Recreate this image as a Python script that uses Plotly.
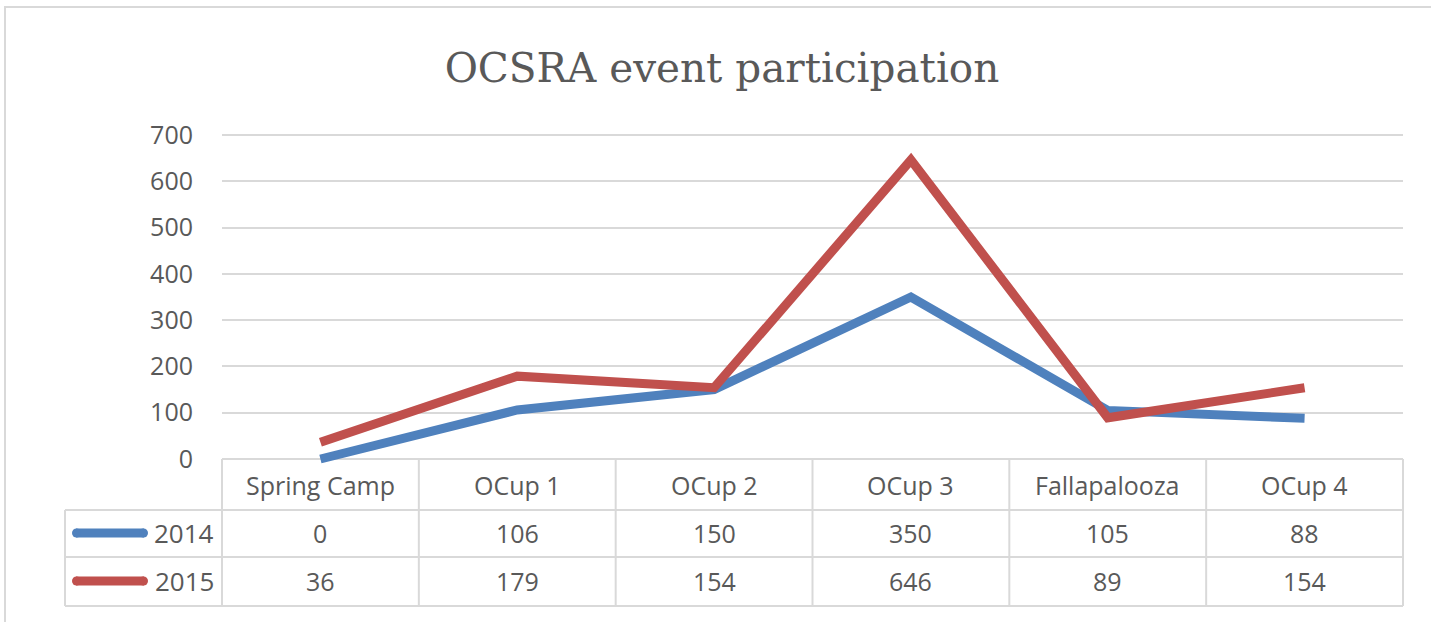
import plotly.graph_objects as go

categories = ["Spring Camp", "OCup 1", "OCup 2", "OCup 3", "Fallapalooza", "OCup 4"]
series_names = ["2014", "2015"]
values_2014 = [0, 106, 150, 350, 105, 88]
values_2015 = [36, 179, 154, 646, 89, 154]
y_ticks = [0, 100, 200, 300, 400, 500, 600, 700]

colors = ["#4f81bd", "#c0504d"]
text_color = "#595959"
grid_color = "#d9d9d9"
FONT = "Open Sans"

W, H = 1431, 622
PAD = 6
ML, MR = 222, W - 1403
MT = 135 - PAD
MB = H - (459 + PAD)
PW = W - ML - MR
PH = H - MT - MB
K = 324 / 700  # px per unit
YMIN, YMAX = -PAD / K, 700 + PAD / K

def px(x):
    return (x - ML) / PW

def py(y):
    return (H - MB - y) / PH

fig = go.Figure()
for name, vals, c in zip(series_names, [values_2014, values_2015], colors):
    fig.add_trace(go.Scatter(x=list(range(len(categories))), y=vals, mode="lines",
                             name=name, line=dict(color=c, width=9), showlegend=False,
                             hoverinfo="skip"))

shapes = []
shapes.append(dict(type="rect", xref="paper", yref="paper", x0=px(5), x1=px(1445),
                   y0=py(7), y1=py(640), line=dict(color="#d9d9d9", width=2), layer="below"))
for yl in [510, 557, 606]:
    shapes.append(dict(type="line", xref="paper", yref="paper", x0=px(65), x1=px(1403),
                       y0=py(yl), y1=py(yl), line=dict(color=grid_color, width=2)))
col_w = PW / len(categories)
for i in range(len(categories) + 1):
    xx = ML + i * col_w
    shapes.append(dict(type="line", xref="paper", yref="paper", x0=px(xx), x1=px(xx),
                       y0=py(459), y1=py(606), line=dict(color=grid_color, width=2)))
shapes.append(dict(type="line", xref="paper", yref="paper", x0=px(65), x1=px(65),
                   y0=py(510), y1=py(606), line=dict(color=grid_color, width=2)))
row_centers = [533, 581]
for c, rc in zip(colors, row_centers):
    shapes.append(dict(type="line", xref="paper", yref="paper", x0=px(76), x1=px(144),
                       y0=py(rc), y1=py(rc), line=dict(color=c, width=9)))
    shapes.append(dict(type="circle", xref="paper", yref="paper", x0=px(72), x1=px(81),
                       y0=py(rc + 4.5), y1=py(rc - 4.5), fillcolor=c, line=dict(width=0)))
    shapes.append(dict(type="circle", xref="paper", yref="paper", x0=px(139), x1=px(148),
                       y0=py(rc + 4.5), y1=py(rc - 4.5), fillcolor=c, line=dict(width=0)))

annotations = []
fs = 25
for i, cat in enumerate(categories):
    annotations.append(dict(x=i, xref="x", y=py(485), yref="paper", text=cat,
                            xanchor="center", yanchor="middle", showarrow=False,
                            font=dict(family=FONT, size=fs, color=text_color)))
for name, vals, rc in zip(series_names, [values_2014, values_2015], row_centers):
    annotations.append(dict(x=px(216), xref="paper", y=py(rc), yref="paper", text=name,
                            xanchor="right", yanchor="middle", showarrow=False,
                            font=dict(family=FONT, size=26, color=text_color)))
    for i, v in enumerate(vals):
        annotations.append(dict(x=i, xref="x", y=py(rc), yref="paper", text=str(v),
                                xanchor="center", yanchor="middle", showarrow=False,
                                font=dict(family=FONT, size=fs, color=text_color)))

fig.update_layout(
    width=W, height=H,
    margin=dict(l=ML, r=MR, t=MT, b=MB, autoexpand=False),
    paper_bgcolor="white", plot_bgcolor="white",
    title=dict(text="OCSRA event participation", x=722 / W, xanchor="center",
               y=1 - 68 / H, yanchor="middle",
               font=dict(family="DejaVu Serif", size=40.5, color=text_color)),
    xaxis=dict(range=[-0.5, 5.5], showgrid=False, showticklabels=False, zeroline=False,
               showline=False, fixedrange=True),
    yaxis=dict(range=[YMIN, YMAX], tickvals=y_ticks, showgrid=True,
               gridcolor=grid_color, gridwidth=2, zeroline=False, showline=False,
               ticklabelstandoff=28,
               tickfont=dict(family=FONT, size=fs, color=text_color)),
    shapes=shapes, annotations=annotations,
)

fig.write_html("out.html", config={"displayModeBar": False},
               post_script="document.body.style.margin='0';")
